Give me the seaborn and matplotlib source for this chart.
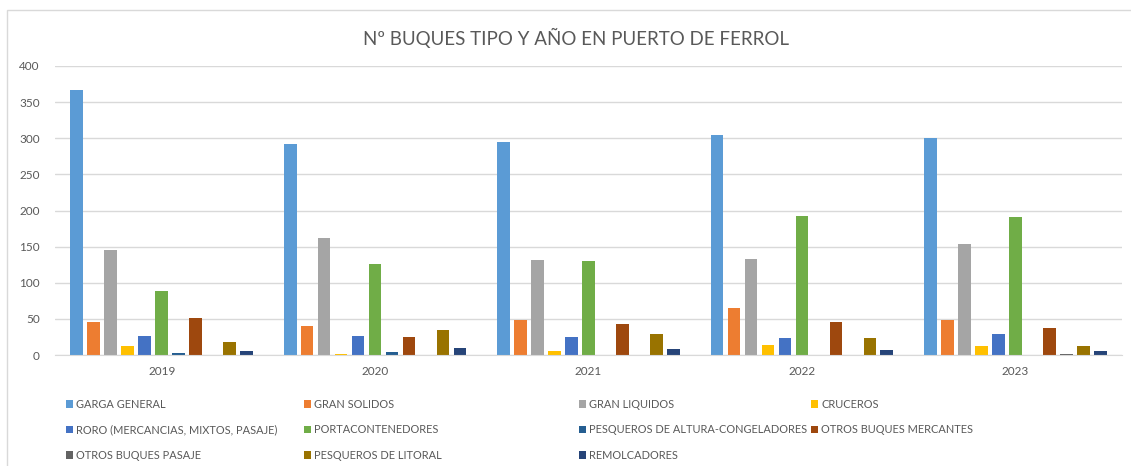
import matplotlib
matplotlib.use("Agg")
import matplotlib.pyplot as plt
import seaborn as sns
import pandas as pd
from matplotlib.patches import Rectangle

years = ["2019", "2020", "2021", "2022", "2023"]
tipos = [
    "GARGA GENERAL", "GRAN SOLIDOS", "GRAN LIQUIDOS", "CRUCEROS",
    "RORO (MERCANCIAS, MIXTOS, PASAJE)", "PORTACONTENEDORES",
    "PESQUEROS DE ALTURA-CONGELADORES", "OTROS BUQUES MERCANTES",
    "OTROS BUQUES PASAJE", "PESQUEROS DE LITORAL", "REMOLCADORES",
]
garga_general = [367, 292, 295, 304, 301]
gran_solidos = [45, 40, 48, 65, 48]
gran_liquidos = [145, 162, 132, 133, 154]
cruceros = [12, 2, 5, 14, 12]
roro = [26, 26, 25, 23, 29]
portacontenedores = [89, 126, 130, 192, 191]
pesqueros_altura = [3, 4, 0, 0, 0]
otros_mercantes = [51, 25, 43, 45, 37]
otros_pasaje = [0, 0, 0, 0, 2]
pesqueros_litoral = [18, 34, 29, 24, 13]
remolcadores = [6, 9, 8, 7, 6]

series = [garga_general, gran_solidos, gran_liquidos, cruceros, roro,
          portacontenedores, pesqueros_altura, otros_mercantes,
          otros_pasaje, pesqueros_litoral, remolcadores]
colors = ["#5B9BD5", "#ED7D31", "#A5A5A5", "#FFC000", "#4472C4", "#70AD47",
          "#255E91", "#9E480E", "#636363", "#997300", "#264478"]

rows = []
for t, vals in zip(tipos, series):
    for y, v in zip(years, vals):
        rows.append({"year": y, "tipo": t, "value": v})
df = pd.DataFrame(rows)

sns.set_style("white")
font = ["Lato", "DejaVu Sans"]
plt.rcParams["font.family"] = font
txt = "#595959"

fig = plt.figure(figsize=(11.31, 4.66), dpi=100)
W, H = 1131, 466
ax = fig.add_axes([55 / W, 1 - 355 / H, (1122 - 55) / W, (355 - 66) / H])

sns.barplot(data=df, x="year", y="value", hue="tipo", order=years,
            hue_order=tipos, palette=colors, errorbar=None, width=0.876,
            gap=0.25, linewidth=0, saturation=1, ax=ax)

handles, labels = ax.get_legend_handles_labels()
ax.get_legend().remove()

ax.set_ylim(0, 400)
ax.set_yticks(range(0, 401, 50))
ax.yaxis.grid(True, color="#D9D9D9", linewidth=1)
ax.set_axisbelow(True)
for s in ["top", "right", "left"]:
    ax.spines[s].set_visible(False)
ax.spines["bottom"].set_color("#D9D9D9")
ax.tick_params(axis="both", length=0, labelsize=8.5, labelcolor=txt)
ax.tick_params(axis="y", pad=11)
ax.tick_params(axis="x", pad=8)
ax.set_xlabel("")
ax.set_ylabel("")

fig.text(576 / W, 1 - 38 / H, "Nº BUQUES TIPO Y AÑO EN PUERTO DE FERROL",
         ha="center", va="center", fontsize=13.5, color=txt)

col_x = [66, 304, 579, 811]
for c in range(4):
    idx = [i for i in range(c, len(tipos), 4)]
    leg = fig.legend([handles[i] for i in idx], [labels[i] for i in idx],
                     loc="upper left", bbox_to_anchor=(col_x[c] / W, 1 - 399 / H),
                     frameon=False, borderpad=0, borderaxespad=0,
                     handlelength=0.65, handleheight=0.65, handletextpad=0.3,
                     labelspacing=1.32, fontsize=7.9, labelcolor=txt)

fig.patches.append(Rectangle((7 / W, -0.1), 1.2, 1 - 10 / H + 0.1,
                             transform=fig.transFigure, fill=False,
                             edgecolor="#D9D9D9", linewidth=1))

fig.savefig("out.png", dpi=100)
